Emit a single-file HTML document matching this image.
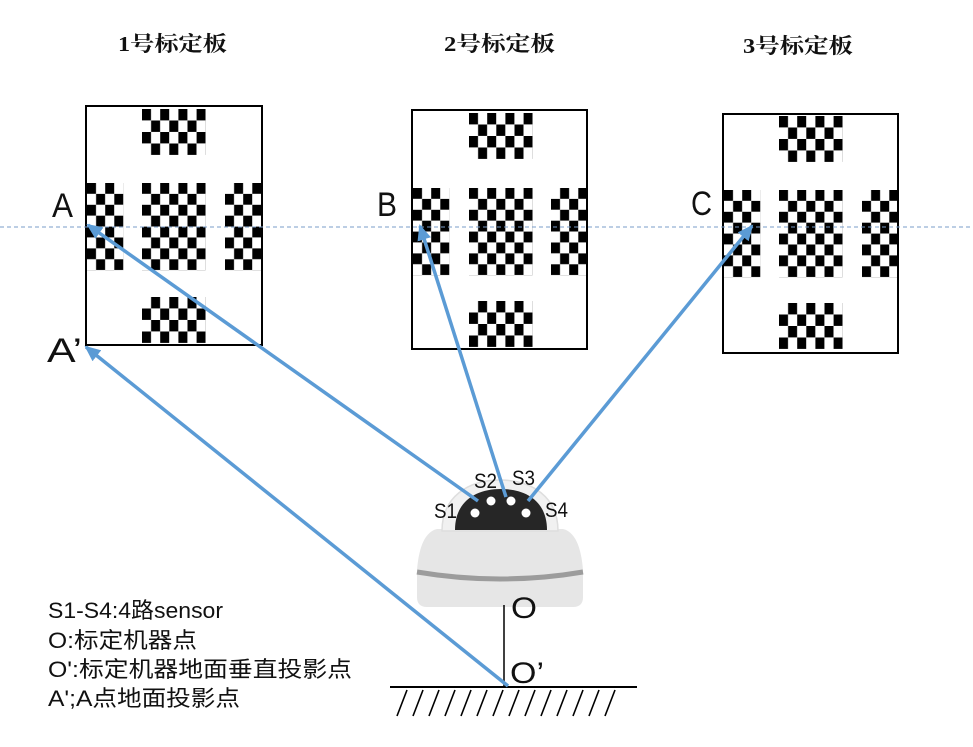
<!DOCTYPE html>
<html>
<head>
<meta charset="utf-8">
<style>
  html,body{margin:0;padding:0;background:#fff;}
  body{width:973px;height:747px;overflow:hidden;}
  svg{display:block;}
  .t{font-family:"Liberation Serif","Noto Serif CJK SC",serif;font-weight:bold;font-size:21px;fill:#111;}
  .l{font-family:"Liberation Sans","Noto Sans CJK SC",sans-serif;fill:#111;}
</style>
</head>
<body>
<svg width="973" height="747" viewBox="0 0 973 747" xmlns="http://www.w3.org/2000/svg">
  <defs>
    <pattern id="e115" width="18.2" height="23" patternUnits="userSpaceOnUse">
      <rect x="0" y="0" width="9.0" height="11.4" fill="#000"/>
      <rect x="9.1" y="11.5" width="9.0" height="11.4" fill="#000"/>
    </pattern>
    <pattern id="o115" width="18.2" height="23" patternUnits="userSpaceOnUse">
      <rect x="9.1" y="0" width="9.0" height="11.4" fill="#000"/>
      <rect x="0" y="11.5" width="9.0" height="11.4" fill="#000"/>
    </pattern>
    <pattern id="e109" width="18.2" height="21.8" patternUnits="userSpaceOnUse">
      <rect x="0" y="0" width="9.0" height="10.8" fill="#000"/>
      <rect x="9.1" y="10.9" width="9.0" height="10.8" fill="#000"/>
    </pattern>
    <pattern id="o109" width="18.2" height="21.8" patternUnits="userSpaceOnUse">
      <rect x="9.1" y="0" width="9.0" height="10.8" fill="#000"/>
      <rect x="0" y="10.9" width="9.0" height="10.8" fill="#000"/>
    </pattern>
    <marker id="ah" markerUnits="userSpaceOnUse" markerWidth="16" markerHeight="14" refX="14" refY="7" orient="auto">
      <path d="M0,0 L16,7 L0,14 Z" fill="#5b9bd5"/>
    </marker>
  </defs>

  <!-- Titles -->
  <text class="t" x="118" y="51" textLength="109" lengthAdjust="spacingAndGlyphs">1号标定板</text>
  <text class="t" x="444" y="51" textLength="111" lengthAdjust="spacingAndGlyphs">2号标定板</text>
  <text class="t" x="743" y="53" textLength="110" lengthAdjust="spacingAndGlyphs">3号标定板</text>

  <!-- Board 1 -->
  <g transform="translate(86,106)">
    <rect x="0" y="0" width="176" height="239" fill="#fff"/>
    <g transform="translate(56,3)"><rect width="63.7" height="46" fill="url(#e115)"/></g>
    <g transform="translate(56,77)"><rect width="63.7" height="87.2" fill="url(#e109)"/></g>
    <g transform="translate(1,77)"><rect width="36.4" height="87.2" fill="url(#e109)"/></g>
    <g transform="translate(139,77)"><rect width="36.4" height="87.2" fill="url(#o109)"/></g>
    <g transform="translate(56,191)"><rect width="63.7" height="46" fill="url(#o115)"/></g>
    <rect x="0" y="0" width="176" height="239" fill="none" stroke="#000" stroke-width="2"/>
  </g>

  <!-- Board 2 -->
  <g transform="translate(412,110)">
    <rect x="0" y="0" width="175" height="239" fill="#fff"/>
    <g transform="translate(57,3)"><rect width="63.7" height="46" fill="url(#e115)"/></g>
    <g transform="translate(57,78)"><rect width="63.7" height="87.2" fill="url(#e109)"/></g>
    <g transform="translate(1,78)"><rect width="36.4" height="87.2" fill="url(#e109)"/></g>
    <g transform="translate(139,78)"><rect width="36.4" height="87.2" fill="url(#o109)"/></g>
    <g transform="translate(57,191)"><rect width="63.7" height="46" fill="url(#o115)"/></g>
    <rect x="0" y="0" width="175" height="239" fill="none" stroke="#000" stroke-width="2"/>
  </g>

  <!-- Board 3 -->
  <g transform="translate(723,114)">
    <rect x="0" y="0" width="175" height="239" fill="#fff"/>
    <g transform="translate(56,2)"><rect width="63.7" height="46" fill="url(#e115)"/></g>
    <g transform="translate(56,76)"><rect width="63.7" height="87.2" fill="url(#e109)"/></g>
    <g transform="translate(1,76)"><rect width="36.4" height="87.2" fill="url(#e109)"/></g>
    <g transform="translate(139,76)"><rect width="36.4" height="87.2" fill="url(#o109)"/></g>
    <g transform="translate(56,189)"><rect width="63.7" height="46" fill="url(#o115)"/></g>
    <rect x="0" y="0" width="175" height="239" fill="none" stroke="#000" stroke-width="2"/>
  </g>

  <!-- Dashed horizontal reference line -->
  <line x1="0" y1="227" x2="973" y2="227" stroke="#7a9cc8" stroke-width="1" stroke-dasharray="4,3"/>

  <!-- Letters -->
  <text class="l" x="52" y="217" font-size="34" textLength="21" lengthAdjust="spacingAndGlyphs">A</text>
  <text class="l" x="377" y="216" font-size="34" textLength="20" lengthAdjust="spacingAndGlyphs">B</text>
  <text class="l" x="691" y="215" font-size="34" textLength="21" lengthAdjust="spacingAndGlyphs">C</text>
  <text class="l" x="47" y="362" font-size="34" textLength="35" lengthAdjust="spacingAndGlyphs">A’</text>

  <!-- Robot -->
  <path d="M437,529 L563,529 Q580,533 583,570 L583,597 Q583,607 573,607 L427,607 Q417,607 417,597 L417,570 Q420,533 437,529 Z" fill="#e6e6e6"/>
  <path d="M417,572 Q500,586 583,572" fill="none" stroke="#9c9c9c" stroke-width="5"/>
  <path d="M442,531 C442,497 468,480 500,480 C532,480 558,497 558,531 Z" fill="#f1f1f1" stroke="#dedede" stroke-width="1.5"/>
  <path d="M455,530 C455,502 475,489 501,489 C527,489 547,502 547,530 Z" fill="#262626"/>
  <circle cx="475" cy="513" r="4.5" fill="#fff"/>
  <circle cx="491" cy="501" r="4.5" fill="#fff"/>
  <circle cx="511" cy="501" r="4.5" fill="#fff"/>
  <circle cx="526" cy="513" r="4.5" fill="#fff"/>

  <!-- Sensor labels -->
  <text class="l" x="434" y="518" font-size="21" textLength="23" lengthAdjust="spacingAndGlyphs">S1</text>
  <text class="l" x="474" y="488" font-size="21" textLength="23" lengthAdjust="spacingAndGlyphs">S2</text>
  <text class="l" x="512" y="485" font-size="21" textLength="23" lengthAdjust="spacingAndGlyphs">S3</text>
  <text class="l" x="545" y="517" font-size="21" textLength="23" lengthAdjust="spacingAndGlyphs">S4</text>

  <!-- Vertical O line and ground -->
  <line x1="504" y1="605" x2="504" y2="687" stroke="#000" stroke-width="1.5"/>
  <line x1="390" y1="687" x2="637" y2="687" stroke="#000" stroke-width="2"/>
  <g stroke="#000" stroke-width="1.6">
    <line x1="397" y1="716" x2="407" y2="690"/>
    <line x1="413" y1="716" x2="423" y2="690"/>
    <line x1="429" y1="716" x2="439" y2="690"/>
    <line x1="445" y1="716" x2="455" y2="690"/>
    <line x1="461" y1="716" x2="471" y2="690"/>
    <line x1="477" y1="716" x2="487" y2="690"/>
    <line x1="493" y1="716" x2="503" y2="690"/>
    <line x1="509" y1="716" x2="519" y2="690"/>
    <line x1="525" y1="716" x2="535" y2="690"/>
    <line x1="541" y1="716" x2="551" y2="690"/>
    <line x1="557" y1="716" x2="567" y2="690"/>
    <line x1="573" y1="716" x2="583" y2="690"/>
    <line x1="589" y1="716" x2="599" y2="690"/>
    <line x1="605" y1="716" x2="615" y2="690"/>
  </g>

  <text class="l" x="511" y="618" font-size="30" textLength="26" lengthAdjust="spacingAndGlyphs">O</text>
  <text class="l" x="510" y="683" font-size="30" textLength="34" lengthAdjust="spacingAndGlyphs">O’</text>

  <!-- Arrows -->
  <g stroke="#5b9bd5" stroke-width="3.5" fill="none" marker-end="url(#ah)">
    <line x1="478" y1="501" x2="88" y2="225"/>
    <line x1="508" y1="686" x2="86" y2="347"/>
    <line x1="506" y1="497" x2="420" y2="226"/>
    <line x1="528" y1="501" x2="752" y2="226"/>
  </g>

  <!-- Legend -->
  <text class="l" x="48" y="618" font-size="22" textLength="175" lengthAdjust="spacingAndGlyphs">S1-S4:4路sensor</text>
  <text class="l" x="48" y="648" font-size="22" textLength="149" lengthAdjust="spacingAndGlyphs">O:标定机器点</text>
  <text class="l" x="48" y="677" font-size="22" textLength="304" lengthAdjust="spacingAndGlyphs">O':标定机器地面垂直投影点</text>
  <text class="l" x="48" y="706" font-size="22" textLength="192" lengthAdjust="spacingAndGlyphs">A';A点地面投影点</text>
</svg>
</body>
</html>
